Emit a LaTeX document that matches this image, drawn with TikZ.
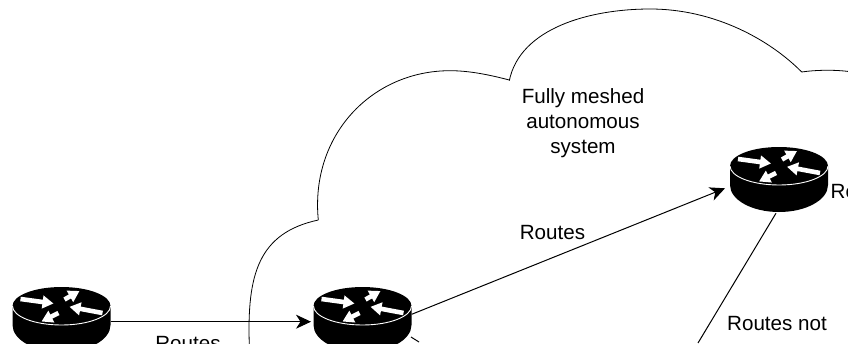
\documentclass[tikz,border=0pt]{standalone}
\usepackage{fontspec}
\setmainfont{Liberation Sans}
\usetikzlibrary{arrows.meta}
\tikzset{
  x=1pt,y=-1pt,
  conn/.style={draw=black,line width=1pt},
  tipped/.style={conn,-{Stealth[length=15pt,width=14pt,inset=4.5pt]}},
  cloudline/.style={draw=black,line width=.8pt},
  routerbox/.style={inner sep=0pt,minimum width=98pt,minimum height=66pt},
  lbl/.style={inner sep=0pt,font=\fontsize{20.6}{25.2}\selectfont,align=center,text=black},
  warrow/.style={draw=white,line width=4.6pt,-{Triangle[length=11pt,width=12.5pt]}},
  router/.pic={
    \fill[black] (-49,0) -- (-49,19) arc[start angle=180,end angle=0,x radius=49,y radius=27] -- (49,0) arc[start angle=0,end angle=-180,x radius=49,y radius=19] -- cycle;
    \draw[white,line width=.9pt] (-49,0) arc[start angle=180,end angle=0,x radius=49,y radius=19];
    \draw[warrow] (-41,-7) -- (-8,-2.5);
    \draw[warrow] (3,-6.5) -- (18,-15);
    \draw[warrow] (41,7) -- (8,0.8);
    \draw[warrow] (-3,7) -- (-20,15.5);
  }
}
\begin{document}
\begin{tikzpicture}
\useasboundingbox (0,0) rectangle (848,343);
\clip (0,0) rectangle (848,343);
% cloud
\draw[cloudline] (249.3,345) .. controls (247,275) and (258,233) .. (318.3,220);
\draw[cloudline] (318.3,220) .. controls (310,135) and (372,70.7) .. (450,70.7) .. controls (470,70.7) and (490,75) .. (509.3,80);
\draw[cloudline] (509.3,80.7) .. controls (520,28) and (590,9) .. (650,9) .. controls (715,9) and (770,40) .. (801.7,72);
\draw[cloudline] (801.7,72) .. controls (815,70) and (835,69.5) .. (850,71.7);
% routers
\node[routerbox] (r1) at (61.5,319) {};
\node[routerbox] (r2) at (362.5,319) {};
\node[routerbox] (r3) at (779,180) {};
\pic at (61.5,306) {router};
\pic at (362.5,306) {router};
\pic at (779,166) {router};
% free ends
\coordinate (c2) at (419,342);
\coordinate (c3) at (698,343);
% connectors
\draw[tipped] (r1.east |- 0,321.7) -- (311,321.7);
\draw[tipped] (411.7,314.3) -- (725,188.3);
\draw[conn] (r3.south) ++(-3,0) -- (c3);
\draw[conn] (411,337) -- (c2);
% labels
\node[lbl] (tfm) at (583,123) {Fully meshed\\autonomous\\system};
\node[lbl] (tro) at (552.5,233) {Routes};
\node[lbl] (tnot) at (777,324) {Routes not};
\node[lbl] (tbot) at (188,344) {Routes};
\node[lbl,anchor=west] (tr) at (830.5,192) {Router};
\end{tikzpicture}
\end{document}
